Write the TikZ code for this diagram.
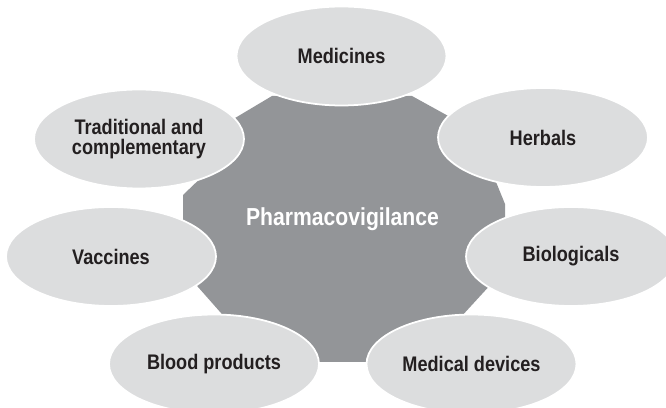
\documentclass[tikz,border=0pt]{standalone}
\usepackage{fontspec}
\setmainfont{Liberation Sans}[FakeStretch=0.86]
\usetikzlibrary{shapes.geometric}
\definecolor{hubgray}{HTML}{939598}
\definecolor{petal}{HTML}{DCDDDE}
\definecolor{ink}{HTML}{231F20}
\tikzset{
  petalnode/.style={ellipse, fill=petal, draw=white, line width=1pt,
    minimum width=4.2cm, minimum height=1.98cm, inner sep=0pt,
    text=ink, align=center, font=\bfseries\fontsize{12}{11.2}\selectfont},
  hubtext/.style={text=white, inner sep=0pt, font=\bfseries\fontsize{14}{16}\selectfont}
}
\begin{document}
\begin{tikzpicture}[x=0.02cm,y=-0.02cm]
\useasboundingbox (0,0) rectangle (666,408);
\clip (0,0) rectangle (666,408);
% central polygon
\fill[hubgray] (272,96) coordinate (hA) -- (412,96) -- (470,128) -- (485,155) -- (505,204)
  -- (505,222) -- (504,270) -- (449,330) -- (413,362) -- (272,362) -- (236,330)
  -- (183,270) -- (183,195) -- (207,172) -- (225,124) -- cycle;
\node[hubtext] (hub) at (342.5,219) {Pharmacovigilance};
% petals
\node[petalnode] (med)  at (341.5,56)  {Medicines};
\node[petalnode] (trad) at (139,139) {Traditional and\\complementary};
\node[petalnode] (herb) at (543,137.5) {Herbals};
\node[petalnode] (vacc) at (111,256.5) {Vaccines};
\node[petalnode] (bio)  at (571,256.5) {Biologicals};
\node[petalnode] (blood) at (214,364)  {Blood products};
\node[petalnode] (dev)  at (471.5,364) {Medical devices};
\end{tikzpicture}
\end{document}
